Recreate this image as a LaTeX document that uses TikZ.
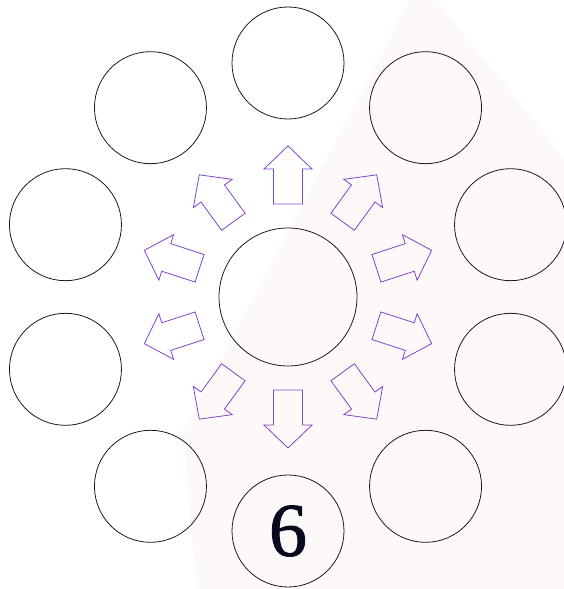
\documentclass[tikz,border=0pt]{standalone}
\usepackage{fontspec}
\newfontfamily\digitfont[FakeBold=1.2]{Liberation Serif}
\usetikzlibrary{calc}
\definecolor{arrowpurple}{RGB}{128,70,200}
\definecolor{ringcol}{RGB}{30,22,40}
\definecolor{wmark}{RGB}{253,249,249}
\definecolor{digitcol}{RGB}{10,10,30}
\begin{document}
\begin{tikzpicture}[x=1pt,y=1pt,
  ring/.style={circle,draw=ringcol,line width=0.8pt,inner sep=0pt,minimum size=112pt},
  hub/.style={circle,draw=ringcol,line width=0.8pt,inner sep=0pt,minimum size=138pt},
  blockarrow/.style={draw=arrowpurple,line width=0.8pt,line join=miter}]
\useasboundingbox (0,0) rectangle (564,589);
% faint watermark
\fill[wmark] (410,589) -- (436,589) -- (564,431) -- (564,0) -- (197,0) -- (183,157) -- cycle;
\coordinate (c) at (288,292);
\node[hub] (hub) at (c) {};
\foreach \i in {0,...,9}{
  \pgfmathsetmacro{\ang}{90-36*\i}
  \node[ring] (r\i) at ($(c)+(\ang:234)$) {};
  \begin{scope}[shift={(c)},rotate=\ang]
    \draw[blockarrow] (93,-14.5) -- (128,-14.5) -- (128,-24) -- (151,0) -- (128,24) -- (128,14.5) -- (93,14.5) -- cycle;
  \end{scope}
}
\node[text=digitcol,font=\digitfont\fontsize{76}{76}\selectfont,inner sep=0pt] (six) at (r5) {6};
\end{tikzpicture}
\end{document}
